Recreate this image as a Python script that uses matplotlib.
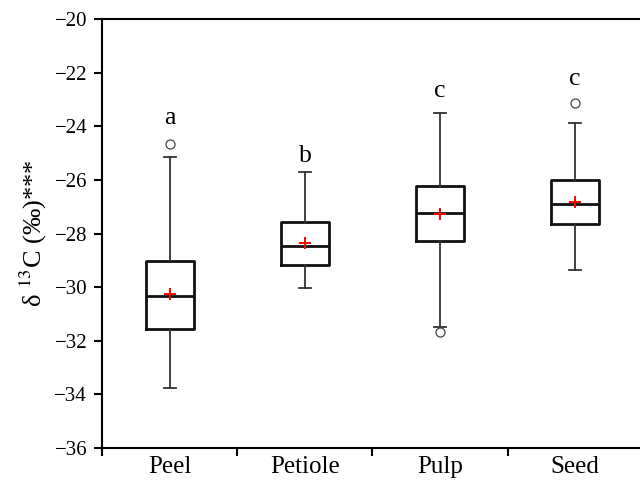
import matplotlib
matplotlib.use("Agg")
import matplotlib.pyplot as plt

# box statistics (per mil)
tissues = ["Peel", "Petiole", "Pulp", "Seed"]
whislo = [-33.78, -30.05, -31.48, -29.35]
q1 = [-31.58, -29.17, -28.27, -27.66]
med = [-30.32, -28.47, -27.24, -26.90]
q3 = [-29.02, -27.56, -26.22, -26.02]
whishi = [-25.16, -25.70, -23.52, -23.87]
means = [-30.27, -28.37, -27.29, -26.84]
fliers = [[-24.66], [], [-31.69], [-23.12]]
letters = ["a", "b", "c", "c"]
letter_y = [-23.92, -25.32, -22.90, -22.46]

plt.rcParams["font.family"] = ["Liberation Serif", "DejaVu Serif"]
plt.rcParams["mathtext.fontset"] = "stix"

fig = plt.figure(figsize=(6.4, 4.83), dpi=100)
ax = fig.add_axes([0.160, 0.0725, 0.844, 0.888])

stats = []
for i in range(4):
    stats.append(dict(label=tissues[i], whislo=whislo[i], q1=q1[i], med=med[i],
                      q3=q3[i], whishi=whishi[i], mean=means[i], fliers=fliers[i]))

pos = [0.5, 1.5, 2.5, 3.5]
ax.bxp(stats, positions=pos, widths=0.36, showmeans=True, capwidths=0.09,
       boxprops=dict(color="#111111", linewidth=2.0),
       medianprops=dict(color="#111111", linewidth=2.0),
       whiskerprops=dict(color="#333333", linewidth=1.3),
       capprops=dict(color="#333333", linewidth=1.3),
       meanprops=dict(marker="+", markeredgecolor="red", markersize=9, markeredgewidth=1.4),
       flierprops=dict(marker="o", markerfacecolor="none", markeredgecolor="#444444",
                       markersize=6.5, markeredgewidth=0.9))

for x, t, y in zip(pos, letters, letter_y):
    ax.text(x, y, t, ha="center", va="baseline", fontsize=18.5)

ax.set_xlim(0, 4)
ax.set_ylim(-36, -20)
ax.set_yticks(range(-36, -19, 2))
ax.set_xticks([0, 1, 2, 3])
ax.set_xticklabels([])
ax.set_xticks(pos, minor=True)
ax.set_xticklabels(tissues, minor=True, fontsize=18)
ax.tick_params(axis="x", which="minor", length=0, pad=6)
ax.tick_params(axis="x", which="major", direction="out", length=6, width=1.5)
ax.tick_params(axis="y", direction="out", length=6, width=1.5, labelsize=15, pad=5)
for s in ax.spines.values():
    s.set_linewidth(1.5)

ax.set_ylabel(r"δ $^{13}$C (‰)***", fontsize=19, labelpad=4)

fig.savefig("out.png", dpi=100)
